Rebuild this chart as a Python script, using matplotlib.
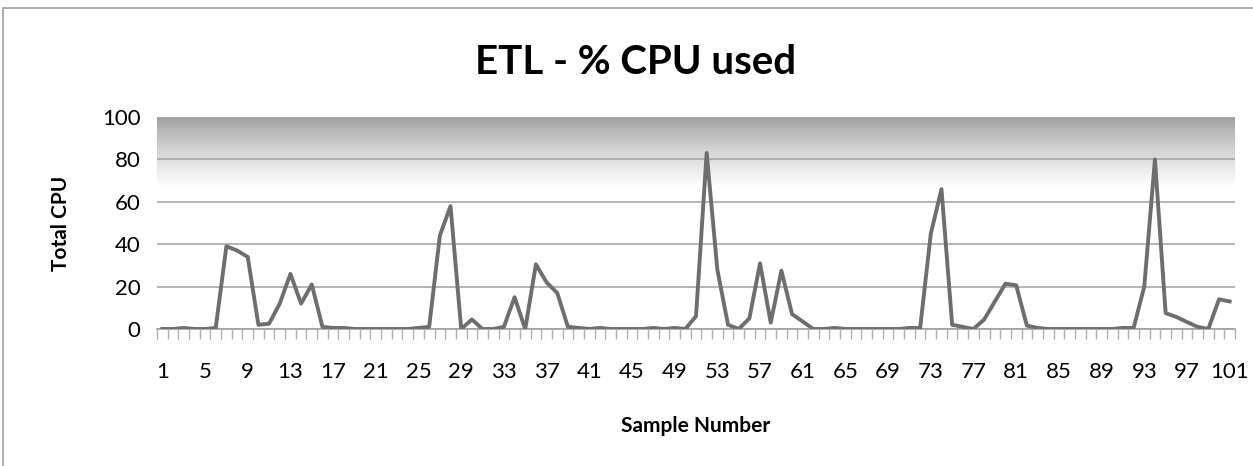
import numpy as np
import matplotlib
matplotlib.use("Agg")
from matplotlib import pyplot as plt
from matplotlib.patches import Rectangle

# Sample numbers and CPU usage
samples = list(range(1, 102))
cpu = [0, 0, 0.5, 0, 0, 0.5, 39, 37, 34, 2,
       2.5, 12, 26, 12, 21, 1, 0.5, 0.5, 0, 0,
       0, 0, 0, 0, 0.5, 1, 44, 58, 0, 4.5,
       0, 0, 1, 15, 0, 30.5, 22, 17, 1, 0.5,
       0, 0.5, 0, 0, 0, 0, 0.5, 0, 0.5, 0,
       6, 83, 28, 2, 0, 5, 31, 3, 27.5, 7,
       3.5, 0, 0, 0.5, 0, 0, 0, 0, 0, 0,
       0.5, 0.5, 45, 66, 2, 1, 0, 4.5, 13, 21.4,
       20.6, 1.6, 0.5, 0, 0, 0, 0, 0, 0, 0,
       0.5, 0.5, 20, 80, 7.5, 5.7, 3.3, 1, 0, 14,
       13]
y_ticks = [0, 20, 40, 60, 80, 100]
x_ticks = list(range(1, 102, 4))

plt.rcParams['font.family'] = ['Lato', 'DejaVu Sans']

fig = plt.figure(figsize=(12.53, 4.66), dpi=100)
ax = fig.add_axes([157 / 1253, 1 - 329 / 466, (1235 - 157) / 1253, (329 - 117) / 466])

# chart border
fig.patches.append(Rectangle((3 / 1253, -0.1), 1.2, 1 - 8 / 466 + 0.1, transform=fig.transFigure,
                             fill=False, edgecolor='#a0a0a0', linewidth=1.2))

# gray gradient band at top of plot area (dark at top, fading to white)
grad = np.linspace(0, 1, 256).reshape(-1, 1) ** 0.8
ax.imshow(grad, cmap='gray', vmin=-1.6, vmax=1.0, aspect='auto',
          extent=(0.5, 101.5, 67, 100), origin='upper', zorder=0)

ax.plot(samples, cpu, color='#6e6e6e', linewidth=2.8, zorder=3)

ax.set_xlim(0.5, 101.5)
ax.set_ylim(0, 100)
ax.set_yticks(y_ticks)
ax.set_xticks(x_ticks)
ax.set_xticks(np.arange(0.5, 102, 1), minor=True)
ax.grid(axis='y', color='#a8a8a8', linewidth=1.2, zorder=1)
ax.set_axisbelow(True)

for s in ['top', 'right', 'left']:
    ax.spines[s].set_visible(False)
ax.spines['bottom'].set_color('#a0a0a0')
ax.spines['bottom'].set_linewidth(1.2)

ax.tick_params(axis='y', length=0, pad=12, labelsize=16)
ax.tick_params(axis='x', which='major', length=0, pad=24, labelsize=16)
ax.tick_params(axis='x', which='minor', length=7, color='#b0b0b0', width=1)

# Title centred on the chart, not the axes
fig.text(636 / 1253, 1 - 63 / 466, 'ETL - % CPU used', fontsize=29, fontweight='bold',
         ha='center', va='center')
ax.set_ylabel('Total CPU', fontsize=15, fontweight='bold', labelpad=22)
ax.set_xlabel('Sample Number', fontsize=15, fontweight='bold', labelpad=24)

fig.savefig('out.png', dpi=100)
